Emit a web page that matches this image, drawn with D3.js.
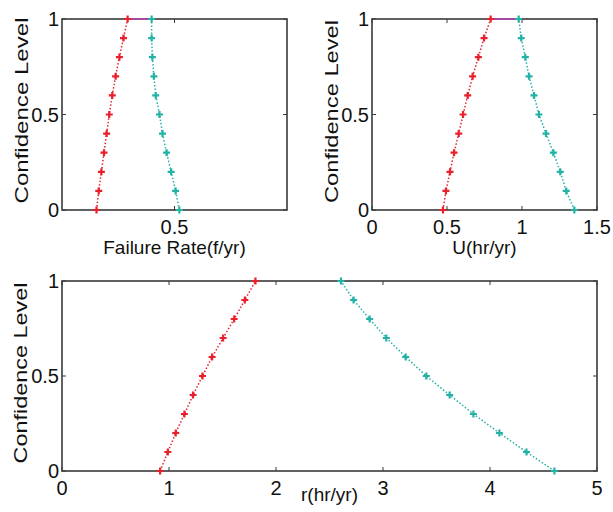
<!DOCTYPE html>
<html>
<head>
<meta charset="utf-8">
<script src="https://cdn.jsdelivr.net/npm/d3@7"></script>
<style>
  body { margin: 0; background: #fff; }
  text { font-family: "Liberation Sans", Arial, sans-serif; fill: #111; }
</style>
</head>
<body>
<div id="host"></div>
<script>
// Confidence levels (alpha cuts)
const levels = [0, 0.1, 0.2, 0.3, 0.4, 0.5, 0.6, 0.7, 0.8, 0.9, 1.0];

// Failure rate (f/yr)
const frLower = [0.292, 0.298, 0.305, 0.312, 0.319, 0.326, 0.334, 0.343, 0.353, 0.364, 0.375];
const frUpper = [0.513, 0.503, 0.491, 0.479, 0.468, 0.460, 0.450, 0.445, 0.441, 0.439, 0.439];

// U (hr/yr)
const uLower = [0.473, 0.493, 0.520, 0.547, 0.578, 0.607, 0.638, 0.671, 0.709, 0.747, 0.791];
const uUpper = [1.349, 1.295, 1.255, 1.209, 1.160, 1.113, 1.080, 1.047, 1.022, 0.995, 0.978];

// r (hr/yr)
const rLower = [0.917, 0.989, 1.063, 1.144, 1.225, 1.313, 1.403, 1.506, 1.609, 1.709, 1.808];
const rUpper = [4.602, 4.341, 4.088, 3.845, 3.623, 3.405, 3.212, 3.031, 2.875, 2.725, 2.607];

const yTicks = [0, 0.5, 1];
const yTickLabels = ["0", "0.5", "1"];

const RED = "#e8202c";
const TEAL = "#22b2a6";
const MAGENTA = "#c83cc8";

const svg = d3.select("#host").append("svg")
    .attr("width", 613)
    .attr("height", 512);

function plusPath(s) {
    return `M${-s},0H${s}M0,${-s}V${s}`;
}

function drawPanel(p) {
    const x = d3.scaleLinear().domain(p.xDomain).range([p.left, p.right]);
    const y = d3.scaleLinear().domain([0, 1]).range([p.bottom, p.top]);
    const g = svg.append("g");

    // box
    g.append("rect")
        .attr("x", p.left).attr("y", p.top)
        .attr("width", p.right - p.left)
        .attr("height", p.bottom - p.top)
        .attr("fill", "none")
        .attr("stroke", "#3a3a3a")
        .attr("stroke-width", 1.6);

    // core interval at full confidence
    if (p.showCore) {
        g.append("line")
            .attr("x1", x(p.lower[p.lower.length - 1]))
            .attr("x2", x(p.upper[p.upper.length - 1]))
            .attr("y1", y(1)).attr("y2", y(1))
            .attr("stroke", MAGENTA)
            .attr("stroke-width", 1.3);
    }

    // inward ticks
    const tk = 4;
    p.xTicks.forEach(t => {
        g.append("line").attr("x1", x(t)).attr("x2", x(t))
            .attr("y1", p.bottom).attr("y2", p.bottom - tk)
            .attr("stroke", "#3a3a3a").attr("stroke-width", 1);
        g.append("line").attr("x1", x(t)).attr("x2", x(t))
            .attr("y1", p.top).attr("y2", p.top + tk)
            .attr("stroke", "#3a3a3a").attr("stroke-width", 1);
    });
    yTicks.forEach(t => {
        g.append("line").attr("x1", p.left).attr("x2", p.left + tk)
            .attr("y1", y(t)).attr("y2", y(t))
            .attr("stroke", "#3a3a3a").attr("stroke-width", 1);
        g.append("line").attr("x1", p.right).attr("x2", p.right - tk)
            .attr("y1", y(t)).attr("y2", y(t))
            .attr("stroke", "#3a3a3a").attr("stroke-width", 1);
    });

    // tick labels
    g.selectAll(".xt").data(p.xTicks).join("text")
        .attr("x", d => x(d))
        .attr("y", p.bottom + 24)
        .attr("text-anchor", "middle")
        .attr("font-size", 20)
        .text((d, i) => p.xTickLabels[i]);
    g.selectAll(".yt").data(yTicks).join("text")
        .attr("x", p.left - 3)
        .attr("y", d => y(d))
        .attr("dy", "0.36em")
        .attr("text-anchor", "end")
        .attr("font-size", 20)
        .text((d, i) => yTickLabels[i]);

    // axis labels
    g.append("text")
        .attr("x", (p.left + p.right) / 2)
        .attr("y", p.bottom + p.xLabelGap)
        .attr("text-anchor", "middle")
        .attr("font-size", 19)
        .text(p.xLabel);
    const cy = (p.top + p.bottom) / 2 + p.yLabelShift;
    g.append("text")
        .attr("transform", `translate(${p.yLabelX},${cy}) rotate(-90)`)
        .attr("text-anchor", "middle")
        .attr("font-size", 19)
        .attr("textLength", p.yLabelLen)
        .attr("lengthAdjust", "spacingAndGlyphs")
        .text("Confidence Level");

    // series
    const line = d3.line().x(d => x(d[0])).y(d => y(d[1]));
    [[p.lower, RED], [p.upper, TEAL]].forEach(([vals, color]) => {
        const pts = vals.map((v, i) => [v, levels[i]]);
        g.append("path")
            .attr("d", line(pts))
            .attr("fill", "none")
            .attr("stroke", color)
            .attr("stroke-width", 1.5)
            .attr("stroke-dasharray", "1.5,2");
        g.selectAll(null).data(pts).join("path")
            .attr("d", plusPath(3.5))
            .attr("transform", d => `translate(${x(d[0])},${y(d[1])})`)
            .attr("stroke", color)
            .attr("stroke-width", 2.2)
            .attr("fill", "none");
    });
}

drawPanel({
    left: 62, right: 287, top: 19, bottom: 210,
    xDomain: [0.2, 0.8], xTicks: [0.5], xTickLabels: ["0.5"],
    lower: frLower, upper: frUpper,
    xLabel: "Failure Rate(f/yr)", xLabelGap: 44,
    yLabelX: 28, yLabelShift: -4, yLabelLen: 186, showCore: true
});

drawPanel({
    left: 372, right: 597, top: 19, bottom: 210,
    xDomain: [0, 1.5], xTicks: [0, 0.5, 1, 1.5], xTickLabels: ["0", "0.5", "1", "1.5"],
    lower: uLower, upper: uUpper,
    xLabel: "U(hr/yr)", xLabelGap: 44,
    yLabelX: 338, yLabelShift: -3, yLabelLen: 183, showCore: true
});

drawPanel({
    left: 62, right: 597, top: 281, bottom: 471,
    xDomain: [0, 5], xTicks: [0, 1, 2, 3, 4, 5], xTickLabels: ["0", "1", "2", "3", "4", "5"],
    lower: rLower, upper: rUpper,
    xLabel: "r(hr/yr)", xLabelGap: 30,
    yLabelX: 27, yLabelShift: -3, yLabelLen: 181, showCore: false
});
</script>
</body>
</html>
